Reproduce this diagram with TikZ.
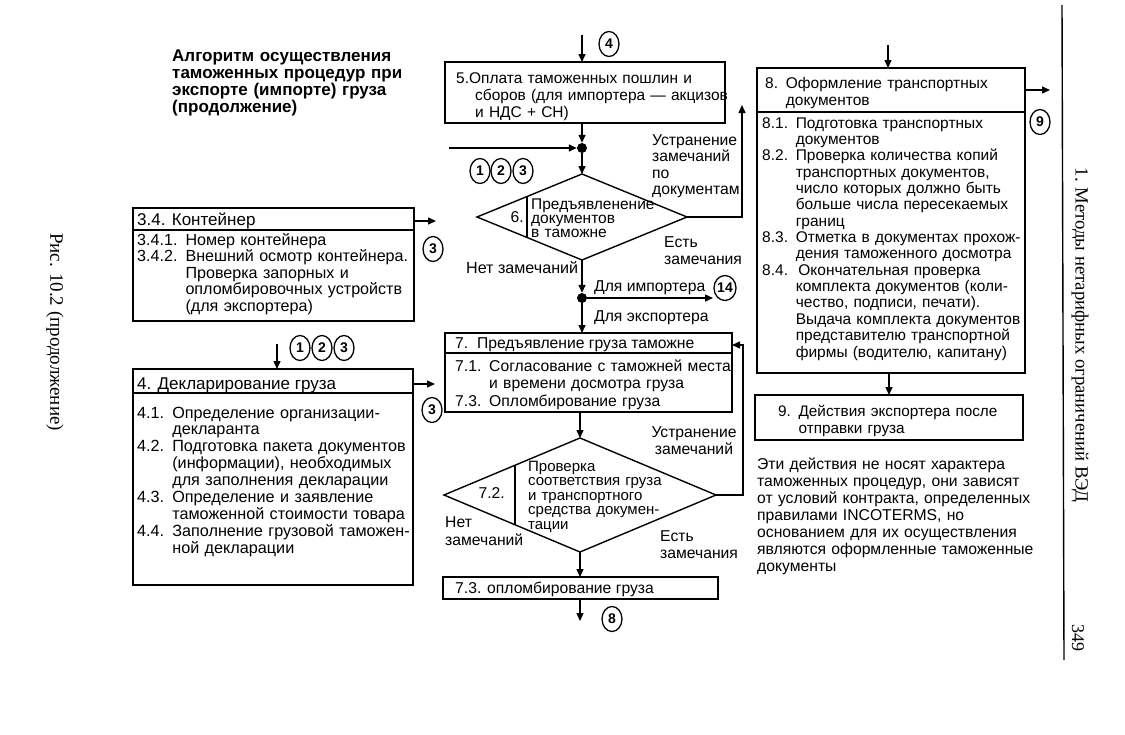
\documentclass[tikz,border=0pt]{standalone}
\usepackage{fontspec}
\setmainfont{Liberation Sans}
\newfontfamily\seriffam{Liberation Serif}
\usetikzlibrary{arrows.meta,shapes.geometric,calc}
\begin{document}
\begin{tikzpicture}[x=1pt,y=-1pt,
  box/.style={draw,line width=1.7pt,anchor=north west,inner sep=0pt,outer sep=0pt},
  dia/.style={draw,line width=1.4pt,shape=diamond,inner sep=0pt,outer sep=0pt},
  arr/.style={line width=1.4pt,-{Triangle[length=8pt,width=7pt]}},
  ln/.style={line width=1.4pt},
  txt/.style={anchor=base west,inner sep=0pt,align=left,text width=300pt,font=\fontsize{15.7}{16.5}\selectfont},
  ctxt/.style={anchor=base,inner sep=0pt,align=center,text width=120pt,font=\fontsize{15.7}{17}\selectfont},
  lbl/.style={anchor=base west,inner sep=0pt,font=\fontsize{15.7}{16.5}\selectfont},
  circ/.style={draw,ellipse,line width=1.3pt,inner sep=0pt,minimum width=20pt,minimum height=25pt,font=\bfseries\fontsize{14}{14}\selectfont},
  dot/.style={circle,fill,inner sep=0pt,minimum size=10pt},
  rot/.style={rotate=-90,inner sep=0pt,font=\seriffam\fontsize{18.7}{18.7}\selectfont}]
\useasboundingbox (0,0) rectangle (1125,734);

% title
\node[txt,font=\bfseries\fontsize{17}{17}\selectfont] (title) at (172,61)
 {Алгоритм осуществления\\таможенных процедур при\\экспорте (импорте) груза\\(продолжение)};

% box 3.4
\node[box,minimum width=281pt,minimum height=113pt] (b34) at (133,208) {};
\draw[ln] ($(b34.north west)+(0,22)$) -- ($(b34.north east)+(0,22)$);
\node[lbl,font=\fontsize{17}{17}\selectfont] (h34) at (137,225) {3.4. Контейнер};
\node[txt,font=\fontsize{16.1}{16.5}\selectfont] (t34) at (137,245) {3.4.1. Номер контейнера\\3.4.2. Внешний осмотр контейнера.\\\phantom{3.4.2. }Проверка запорных и\\\phantom{3.4.2. }опломбировочных устройств\\\phantom{3.4.2. }(для экспортера)};
\coordinate (e34) at (436,221);
\draw[arr] (b34.east |- e34) -- (e34);
\node[circ] (c3a) at (433,249) {3};

% box 4
\coordinate (s4) at (277,344);
\draw[arr] (s4) -- (s4 |- 0,369);
\node[circ] (c1a) at (300,348) {1};
\node[circ] (c2a) at (322,348) {2};
\node[circ] (c3c) at (344,348) {3};
\node[box,minimum width=280pt,minimum height=216pt] (b4) at (133,369) {};
\draw[ln] ($(b4.north west)+(0,24)$) -- ($(b4.north east)+(0,24)$);
\node[lbl,font=\fontsize{17}{17}\selectfont] (h4) at (137,389) {4. Декларирование груза};
\node[txt,font=\fontsize{16.2}{16.9}\selectfont] (t4) at (137,418) {4.1. Определение организации-\\\phantom{4.1. }декларанта\\4.2. Подготовка пакета документов\\\phantom{4.2. }(информации), необходимых\\\phantom{4.2. }для заполнения декларации\\4.3. Определение и заявление\\\phantom{4.3. }таможенной стоимости товара\\4.4. Заполнение грузовой таможен-\\\phantom{4.4. }ной декларации};
\coordinate (e4) at (435,384);
\draw[arr] (b4.east |- e4) -- (e4);
\node[circ] (c3b) at (432,410) {3};

% box 5
\coordinate (s5) at (582,35);
\node[box,minimum width=280pt,minimum height=61pt] (b5) at (445,62) {};
\draw[arr] (s5) -- (s5 |- b5.north);
\node[circ] (c4) at (609,44) {4};
\node[txt,font=\fontsize{15.5}{17}\selectfont] (t5) at (456,83) {5.Оплата таможенных пошлин и\\\hspace*{19pt}сборов (для импортера — акцизов\\\hspace*{19pt}и НДС + СН)};

% junction 1
\node[dot] (dot1) at (582,148) {};
\coordinate (l1) at (449,148);
\draw[arr] (dot1 |- b5.south) -- (dot1.north);
\draw[arr] (l1) -- (dot1.west);
\node[circ] (c1b) at (480,171) {1};
\node[circ] (c2b) at (501,171) {2};
\node[circ] (c3d) at (523,171) {3};

% diamond 6
\node[dia,minimum width=210pt,minimum height=86pt] (d6) at (582,217) {};
\draw[arr] (dot1.south) -- (d6.north);
\draw[ln] ($(d6.north)!0.524!(d6.west)$) -- ($(d6.south)!0.524!(d6.west)$);
\node[anchor=base east,inner sep=0pt,font=\fontsize{15.7}{15}\selectfont] (n6) at (524,222) {6.};
\node[txt,font=\fontsize{15.5}{14}\selectfont] (t6) at (531,209) {Предъявленение\\документов\\в таможне};
\coordinate (u6) at (742,105);
\draw[arr] (d6.east) -| (u6);
\node[txt,font=\fontsize{15.7}{16.6}\selectfont] (l6a) at (652,145) {Устранение\\замечаний\\по\\документам};
\node[txt,font=\fontsize{15.7}{17.5}\selectfont] (l6b) at (664,247) {Есть\\замечания};
\node[lbl,font=\fontsize{16.1}{16.5}\selectfont] (l6c) at (466,273) {Нет замечаний};

% junction 2
\node[dot] (dot2) at (582,298) {};
\draw[arr] (d6.south) -- (dot2.north);
\coordinate (e14) at (713,298);
\draw[arr] (dot2.east) -- (e14);
\node[lbl] (limp) at (594,291) {Для импортера};
\node[circ] (c14) at (725,288) {14};
\node[lbl] (lexp) at (594,321) {Для экспортера};

% box 7
\node[box,minimum width=287pt,minimum height=79pt] (b7) at (445,333) {};
\draw[arr] (dot2.south) -- (dot2 |- b7.north);
\draw[ln] ($(b7.north west)+(0,20)$) -- ($(b7.north east)+(0,20)$);
\node[lbl] (h7) at (455,348) {7.\ \ Предъявление груза таможне};
\node[txt,font=\fontsize{15.7}{17.5}\selectfont] (t7) at (455,371) {7.1. Согласование с таможней места\\\phantom{7.1. }и времени досмотра груза\\7.3. Опломбирование груза};

% diamond 7.2
\node[dia,minimum width=272pt,minimum height=114pt] (d72) at (580,495) {};
\draw[arr] (d72.north |- b7.south) -- (d72.north);
\draw[ln] ($(d72.north)!0.478!(d72.west)$) -- ($(d72.south)!0.478!(d72.west)$);
\node[anchor=base east,inner sep=0pt,font=\fontsize{15.7}{15}\selectfont] (n72) at (505,498) {7.2.};
\node[txt,font=\fontsize{15}{14.5}\selectfont] (t72) at (528,471) {Проверка\\соответствия груза\\и транспортного\\средства докумен-\\тации};
\coordinate (r7) at (743,345);
\draw[arr] (d72.east) -| (r7) -- (b7.east |- r7);
\node[ctxt] (l72a) at (694,437) {Устранение\\замечаний};
\node[txt,font=\fontsize{15.7}{18.5}\selectfont] (l72b) at (445,527) {Нет\\замечаний};
\node[txt,font=\fontsize{15.7}{17}\selectfont] (l72c) at (660,541) {Есть\\замечания};

% box 7.3
\node[box,minimum width=275pt,minimum height=22pt] (b73) at (443,577) {};
\draw[arr] (d72.south) -- (d72.south |- b73.north);
\node[lbl] (t73) at (455,593) {7.3. опломбирование груза};
\coordinate (s8) at (580,621);
\draw[arr] (s8 |- b73.south) -- (s8);
\node[circ] (c8) at (612,619) {8};

% box 8
\coordinate (s8t) at (888,45);
\node[box,minimum width=268pt,minimum height=305pt] (b8) at (757,68) {};
\draw[arr] (s8t) -- (s8t |- b8.north);
\draw[ln] ($(b8.north west)+(0,44)$) -- ($(b8.north east)+(0,44)$);
\node[txt,font=\fontsize{15.5}{17}\selectfont] (h8) at (765,88) {8. Оформление транспортных\\\phantom{8. }документов};
\node[txt,font=\fontsize{15.5}{16.36}\selectfont] (t8) at (762,128) {8.1. Подготовка транспортных\\\phantom{8.1. }документов\\8.2. Проверка количества копий\\\phantom{8.2. }транспортных документов,\\\phantom{8.2. }число которых должно быть\\\phantom{8.2. }больше числа пересекаемых\\\phantom{8.2. }границ\\8.3. Отметка в документах прохож-\\\phantom{8.3. }дения таможенного досмотра\\8.4.\ \ Окончательная проверка\\\phantom{8.4. }комплекта документов (коли-\\\phantom{8.4. }чество, подписи, печати).\\\phantom{8.4. }Выдача комплекта документов\\\phantom{8.4. }представителю транспортной\\\phantom{8.4. }фирмы (водителю, капитану)};
\coordinate (e8) at (1050,90);
\draw[arr] (b8.east |- e8) -- (e8);
\node[circ] (c9) at (1040,122) {9};

% box 9
\node[box,minimum width=268pt,minimum height=45pt] (b9) at (755,395) {};
\draw[arr] (b9.north |- b8.south) -- (b9.north);
\node[txt,font=\fontsize{15.3}{17}\selectfont] (t9) at (778,416) {9. Действия экспортера после\\\phantom{9. }отправки груза};
\node[txt,font=\fontsize{15.7}{17}\selectfont] (note) at (757,469) {Эти действия не носят характера\\таможенных процедур, они зависят\\от условий контракта, определенных\\правилами INCOTERMS, но\\основанием для их осуществления\\являются оформленные таможенные\\документы};

% page furniture
\draw[line width=1.4pt] (1062,5) -- (1064,660);
\node[rot] (hdr) at (1080,335) {1. Методы нетарифных ограничений ВЭД};
\node[rot,font=\seriffam\fontsize{18}{18}\selectfont] (pg) at (1078,638) {349};
\node[rot,font=\seriffam\fontsize{19}{19}\selectfont] (cap) at (55,332) {Рис. 10.2 (продолжение)};
\end{tikzpicture}
\end{document}
